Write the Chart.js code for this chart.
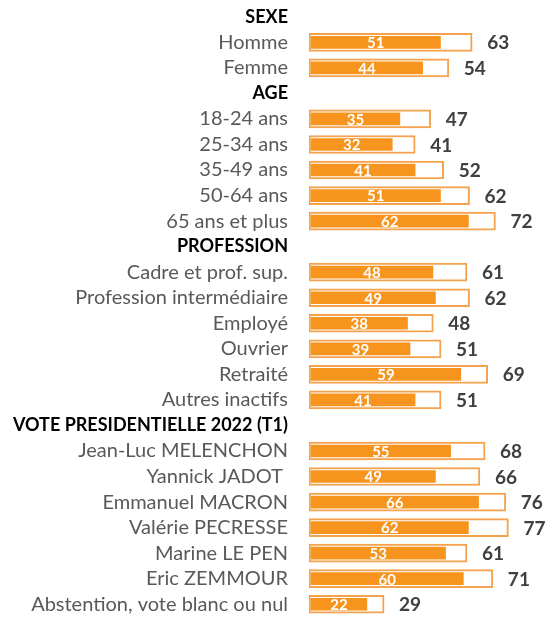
<!DOCTYPE html>
<html>
<head>
<meta charset="utf-8">
<script src="https://cdn.jsdelivr.net/npm/chart.js@4"></script>
<style>
  html, body { margin: 0; padding: 0; background: #fff; }
  #wrap { width: 547px; height: 617px; }
</style>
</head>
<body>
<div id="wrap"><canvas id="chart" width="547" height="617"></canvas></div>
<script>
// Rows of the chart (section headers have no values)
const categories = [
  "SEXE", "Homme", "Femme",
  "AGE", "18-24 ans", "25-34 ans", "35-49 ans", "50-64 ans", "65 ans et plus",
  "PROFESSION", "Cadre et prof. sup.", "Profession intermédiaire", "Employé", "Ouvrier", "Retraité", "Autres inactifs",
  "VOTE PRESIDENTIELLE 2022 (T1)", "Jean-Luc MELENCHON", "Yannick JADOT ", "Emmanuel MACRON", "Valérie PECRESSE", "Marine LE PEN", "Eric ZEMMOUR", "Abstention, vote blanc ou nul"
];
const headers = ["SEXE", "AGE", "PROFESSION", "VOTE PRESIDENTIELLE 2022 (T1)"];

// outer (total) and inner values
const outerValues = [null, 63, 54, null, 47, 41, 52, 62, 72, null, 61, 62, 48, 51, 69, 51, null, 68, 66, 76, 77, 61, 71, 29];
const innerValues = [null, 51, 44, null, 35, 32, 41, 51, 62, null, 48, 49, 38, 39, 59, 41, null, 55, 49, 66, 62, 53, 60, 22];

const ORANGE = "#F7941D";
const ORANGE_LIGHT = "#F4A24E";

const valueLabels = {
  id: "valueLabels",
  afterDatasetsDraw(chart) {
    const ctx = chart.ctx;
    ctx.save();
    ctx.textBaseline = "middle";
    // inner labels, white and centred in the filled bar
    const innerMeta = chart.getDatasetMeta(0);
    ctx.font = "bold 15px Lato";
    ctx.fillStyle = "#ffffff";
    ctx.textAlign = "center";
    innerMeta.data.forEach((bar, i) => {
      if (innerValues[i] == null) return;
      ctx.fillText(innerValues[i], (bar.x + bar.base) / 2, bar.y + 1);
    });
    // outer totals on the right
    const outerMeta = chart.getDatasetMeta(1);
    ctx.font = "bold 19px Lato";
    ctx.fillStyle = "#404040";
    ctx.textAlign = "left";
    outerMeta.data.forEach((bar, i) => {
      if (outerValues[i] == null) return;
      ctx.fillText(outerValues[i], bar.x + 15, bar.y + 1);
    });
    ctx.restore();
  }
};

const ctx = document.getElementById("chart").getContext("2d");
new Chart(ctx, {
  type: "bar",
  data: {
    labels: categories,
    datasets: [
      {
        data: innerValues,
        xAxisID: "x2",
        backgroundColor: ORANGE,
        barThickness: 12,
        grouped: false,
        order: 0
      },
      {
        data: outerValues,
        xAxisID: "x",
        backgroundColor: "#ffffff",
        borderColor: ORANGE_LIGHT,
        borderWidth: 2,
        borderSkipped: false,
        barThickness: 18,
        grouped: false,
        order: 1
      }
    ]
  },
  options: {
    indexAxis: "y",
    responsive: false,
    animation: false,
    layout: { padding: { top: 4, right: 7, bottom: -3, left: 0 } },
    plugins: {
      legend: { display: false },
      tooltip: { enabled: false }
    },
    scales: {
      x: {
        min: 0, max: 89.2,
        display: false
      },
      x2: {
        min: -0.8, max: 90.2,
        display: false
      },
      y: {
        grid: { display: false, tickLength: 21 },
        border: { display: false },
        afterFit(scale) {
          scale.width = 309;
          scale.paddingTop = 0;
          scale.paddingBottom = 0;
        },
        ticks: {
          autoSkip: false,
          padding: 0,
          crossAlign: "near",
          color: (c) => headers.includes(categories[c.index]) ? "#000000" : "#595959",
          font: (c) => headers.includes(categories[c.index])
            ? { family: "Lato", size: 18, weight: "bold" }
            : { family: "Lato", size: 20 }
        }
      }
    }
  },
  plugins: [valueLabels]
});
</script>
</body>
</html>
